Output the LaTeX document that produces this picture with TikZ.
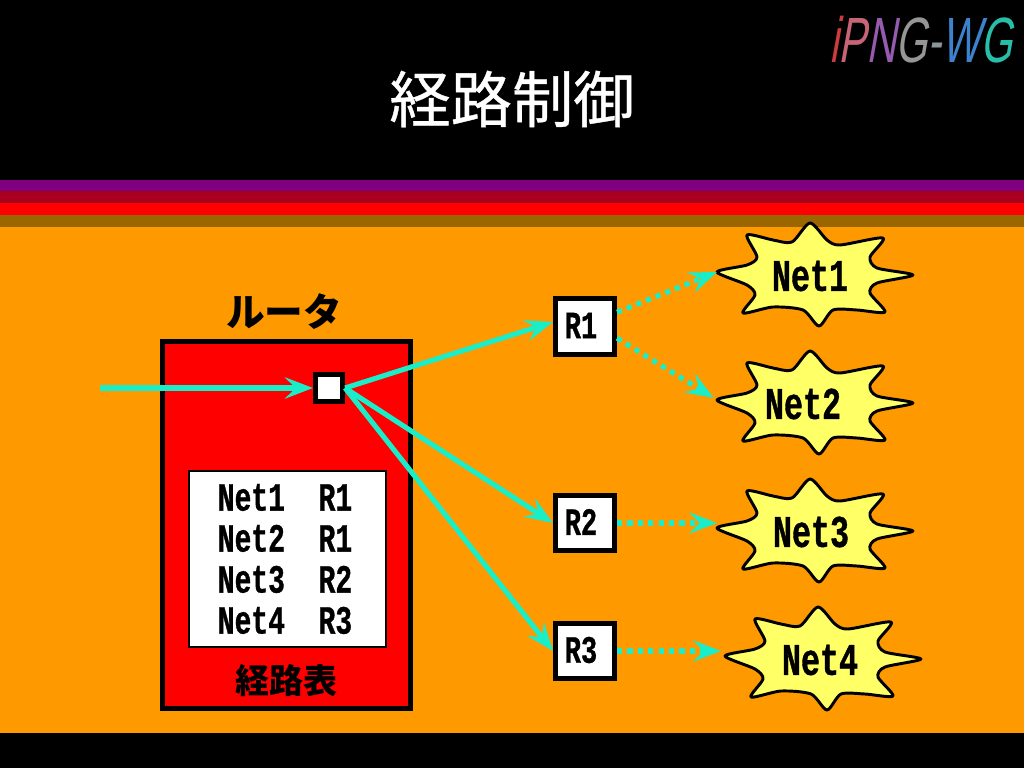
\documentclass[tikz,border=0pt]{standalone}
\usepackage{xcolor}
\usepackage{fontspec}
\usetikzlibrary{arrows.meta}

\newfontfamily\cjkfont{Noto Sans CJK JP}
\newfontfamily\cjktitle[FakeBold=0.6]{Noto Sans CJK JP}
\newfontfamily\netfont[FakeStretch=0.7,BoldFeatures={FakeBold=0.8}]{Liberation Mono}
\newfontfamily\logofont[FakeStretch=0.64]{Liberation Sans}

\definecolor{flowcyan}{HTML}{19EEC8}
\definecolor{bgorange}{HTML}{FF9900}
\definecolor{netyellow}{HTML}{FFFF66}
\definecolor{bandpurple}{RGB}{128,0,128}
\definecolor{bandcrimson}{RGB}{170,0,32}
\definecolor{bandbrown}{RGB}{153,102,0}

\tikzset{
    band/.style={draw=none, fill=#1},
    wirebox/.style={draw=black, line width=3.6pt, fill=white, inner sep=0pt},
    netlabel/.style={font=\netfont\fontsize{34pt}{36pt}\bfseries, inner sep=0pt},
    hoplabel/.style={font=\netfont\fontsize{29pt}{30pt}\bfseries, inner sep=0pt},
    cjklabel/.style={font=\cjkfont\fontsize{#1}{#1}\bfseries, inner sep=0pt},
    flowline/.style={draw=flowcyan, line width=3.8pt, -{Stealth[length=21pt, width=16pt, inset=8pt, fill=flowcyan]}},
    flowdots/.style={flowline, dash pattern=on 3.8pt off 4pt},
    netstar/.style={draw=black, line width=2.2pt, fill=netyellow, line join=round}
}

\begin{document}
\begin{tikzpicture}[x=0.75pt, y=-0.75pt]
\useasboundingbox (0,0) rectangle (1024,768);

% background bands
\fill[band=black] (0,0) rectangle (1024,768);
\fill[band=bandpurple] (0,180) rectangle (1024,191);
\fill[band=bandcrimson] (0,191) rectangle (1024,203);
\fill[band=red] (0,203) rectangle (1024,215);
\fill[band=bandbrown] (0,215) rectangle (1024,227);
\fill[band=bgorange] (0,227) rectangle (1024,733);

% title and logo
\node[inner sep=0pt, text=white, font=\cjktitle\fontsize{46pt}{46pt}\selectfont] (title) at (512,99) {経路制御};
\node[inner sep=0pt, xslant=0.18, font=\logofont\fontsize{48pt}{48pt}\selectfont] (logo) at (925,40)
    {\textcolor[RGB]{205,60,60}{i}\textcolor[RGB]{200,100,120}{P}\textcolor[RGB]{150,90,175}{N}\textcolor[RGB]{150,150,150}{G}\textcolor[RGB]{140,150,150}{-}\textcolor[RGB]{60,130,205}{W}\textcolor[RGB]{40,190,170}{G}};

% router
\node[cjklabel=29pt] (routername) at (284,312) {ルータ};
\node[draw=black, line width=3.6pt, fill=red, minimum width=185.5pt, minimum height=275.5pt, inner sep=0pt] (router) at (286.5,525) {};
\node[draw=black, line width=1.5pt, fill=white, minimum width=148pt, minimum height=132pt, inner sep=0pt] (table) at (287.5,559) {};
\node[font=\netfont\fontsize{30pt}{30.75pt}\bfseries, align=left, inner sep=0pt] (tablerows) at (285,559)
    {Net1\ \ R1\\Net2\ \ R1\\Net3\ \ R2\\Net4\ \ R3};
\node[cjklabel=25.5pt] (tablename) at (286,681) {経路表};
\node[wirebox, minimum width=20.5pt, minimum height=20.5pt] (hop) at (329,388) {};

% next hops
\foreach \hopname/\hopy in {1/326.5, 2/523, 3/651} {
    \node[wirebox, minimum width=44.5pt, minimum height=41.5pt] (r\hopname) at (585,\hopy) {};
    \node[hoplabel] at (581,\hopy-1) {R\hopname};
}

% networks
\foreach \netname/\starx/\stary/\textx in {1/815/275/810, 2/815/403/803, 3/815/531/811, 4/823/659/820} {
    \draw[netstar, shift={(\starx,\stary)}] plot[smooth cycle, tension=0.45] coordinates {
        (-98,-3) (-68,-10) (-58,-18) (-68,-40) (-42,-35) (-23,-33) (-5,-52) (12,-35) (25,-30) (68,-37)
        (55,-18) (62,-7) (98,0) (62,8) (55,18) (70,37) (42,35) (18,35) (4,51) (-12,35) (-42,32) (-72,38)
        (-60,20) (-68,10)};
    \coordinate (tip\netname) at (\starx-98,\stary-3);
    \node[netlabel] (net\netname) at (\textx,\stary+1) {Net\netname};
}

% connectors
\coordinate (source) at (100,388);
\draw[flowline] (source) -- (hop.west);
\draw[flowline] (hop.east) -- (r1.172);
\draw[flowline] (hop.east) -- (r2.west);
\draw[flowline] (hop.east) -- (r3.west);
\draw[flowdots] (r1.24) -- (tip1);
\draw[flowdots, shorten >=3pt] (r1.-20) -- (tip2);
\draw[flowdots] (r2.east) -- (r2.east -| tip3);
\draw[flowdots, shorten >=3pt] (r3.east) -- (r3.east -| tip4);

\end{tikzpicture}
\end{document}
